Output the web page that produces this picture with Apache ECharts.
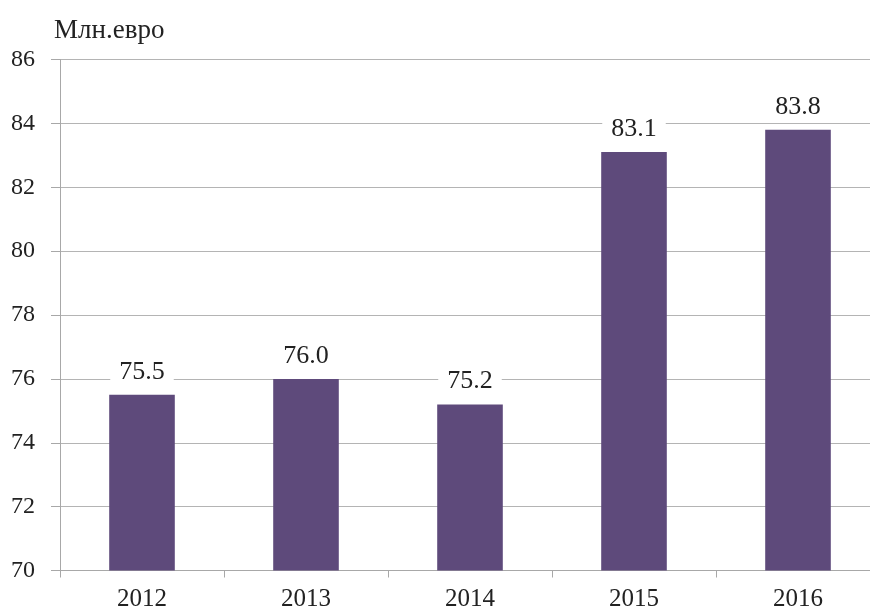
<!DOCTYPE html>
<html><head><meta charset="utf-8">
<script src="https://cdn.jsdelivr.net/npm/echarts@6/dist/echarts.min.js"></script>
<style>html,body{margin:0;padding:0;background:#fff;overflow:hidden;width:870px;height:612px}#c{width:890px;height:612px}</style>
</head><body><div id="c"></div>
<script>
const categories = ['2012','2013','2014','2015','2016'];
const values = [75.5, 76.0, 75.2, 83.1, 83.8];
const yTitle = 'Млн.евро';
const font = '"Liberation Serif","Times New Roman",serif';
const chart = echarts.init(document.getElementById('c'));
chart.setOption({
  animation:false,
  title:{text:yTitle,left:49,top:12,textStyle:{fontFamily:font,fontSize:27,fontWeight:'normal',color:'#222'}},
  grid:{left:60,top:59.5,right:10,bottom:41.5,containLabel:false},
  xAxis:{type:'category',data:categories,
    axisLine:{lineStyle:{color:'#a8a8a8',width:1}},
    axisTick:{show:true,length:7,lineStyle:{color:'#a8a8a8'}},
    axisLabel:{fontFamily:font,fontSize:25,color:'#222',margin:16}},
  yAxis:{type:'value',min:70,max:86,interval:2,
    axisLine:{show:true,lineStyle:{color:'#a8a8a8'}},
    axisTick:{show:true,length:9,lineStyle:{color:'#a8a8a8'}},
    splitLine:{lineStyle:{color:'#b4b4b4',width:1}},
    axisLabel:{fontFamily:font,fontSize:24,color:'#222',margin:25}},
  series:[{type:'bar',data:values,barWidth:'40%',
    itemStyle:{color:'#5e4a7b'},
    label:{show:true,position:'top',distance:9,formatter:p=>p.value.toFixed(1),
      fontFamily:font,fontSize:26,color:'#222',backgroundColor:'#fff',padding:[1,9]}}]
});
</script></body></html>
